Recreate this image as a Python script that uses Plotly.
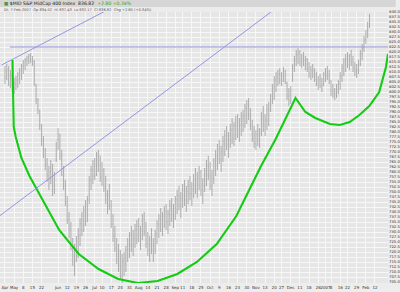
import plotly.graph_objects as go
import pandas as pd

# ---------------- data ----------------
holidays = ["2006-05-29", "2006-07-04", "2006-09-04", "2006-11-23", "2006-12-25",
            "2007-01-01", "2007-01-02", "2007-01-15", "2007-02-19"]
calendar = [d for d in pd.bdate_range("2006-04-24", "2007-02-28")
            if d.strftime("%Y-%m-%d") not in holidays]
session = {d.strftime("%Y-%m-%d"): i for i, d in enumerate(calendar)}

highs = [813, 814, 813, 811, 809, 807, 808, 810, 812, 814,
         816, 817, 818, 819, 819.5, 818, 816, 804, 797, 791,
         784, 778, 772, 767, 763, 766, 764, 760, 775, 782,
         779, 771, 763, 756, 748, 740, 735, 727, 724, 728,
         732, 737, 740, 743, 746, 748, 758, 763, 766, 767,
         770, 771, 768, 765, 762, 758, 751, 754, 746, 739,
         733, 727, 724, 721, 719, 720, 723, 727, 730, 733,
         731, 734, 736, 737, 733, 739, 740, 735, 730, 728,
         732, 727, 731, 736, 739, 742, 740, 743, 744, 741,
         746, 747, 744, 748, 751, 753, 750, 754, 756, 753,
         756, 758, 755, 759, 762, 760, 763, 761, 757, 762,
         766, 768, 765, 761, 767, 771, 774, 776, 773, 778,
         781, 783, 780, 784, 787, 785, 788, 789, 787, 790,
         791, 794, 796, 797, 792, 786, 783, 781, 784, 782,
         790, 793, 789, 794, 795, 799, 804, 808, 810, 811,
         812, 810, 812.5, 811, 805, 802, 803, 814, 818, 821,
         822, 821, 819, 820, 818, 817, 815, 813, 814, 812,
         810, 808, 809, 807, 810, 812, 813, 811, 806, 804,
         802, 804, 806, 810, 814, 817, 819, 820, 819, 821,
         818, 815, 814, 816, 821, 824, 828, 831, 835, 839]
lows = [804, 806, 803, 802, 800, 799, 801, 802, 804, 806,
        809, 811, 813, 814, 814.5, 813, 803, 794, 789, 781,
        773, 767, 761, 755, 751, 754, 748, 749, 765, 771,
        766, 758, 751, 743, 734, 727, 721, 713, 708, 715,
        717, 723, 728, 730, 733, 735, 744, 751, 754, 756,
        758, 760, 755, 753, 750, 744, 739, 741, 732, 725,
        720, 714, 710, 706, 704.5, 708, 710, 715, 717, 720,
        718, 722, 724, 725, 721, 726, 728, 722, 718, 715,
        719, 715, 719, 724, 727, 730, 728, 732, 731, 729,
        733, 735, 732, 736, 739, 741, 737, 742, 743, 740,
        744, 746, 743, 747, 749, 747, 751, 748, 744, 750,
        753, 756, 751, 748, 754, 758, 761, 764, 760, 765,
        768, 771, 767, 772, 774, 773, 776, 777, 775, 778,
        780, 782, 784, 786, 781, 775, 772, 771, 773, 772,
        778, 780, 778, 781, 783, 790, 794, 796, 800, 803,
        804, 803, 805, 804, 796, 793, 794, 805, 810, 813,
        814, 813, 812, 813, 811, 810, 807, 806, 807, 805,
        803, 801, 802, 800, 803, 805, 806, 804, 798, 797,
        796, 797, 799, 801, 805, 808, 810, 812, 811, 813,
        810, 808, 807, 809, 813, 816, 820, 824, 827, 832]
closes = [807, 811, 805, 808, 802, 804, 806, 809, 810, 813,
          815, 816, 817, 818, 816, 815, 804, 796, 791, 783,
          776, 771, 764, 758, 760, 762, 751, 766, 776, 779,
          768, 760, 753, 745, 736, 731, 723, 715, 721, 718,
          728, 734, 731, 740, 735, 746, 756, 761, 758, 764,
          766, 768, 757, 761, 752, 746, 748, 743, 734, 728,
          722, 717, 713, 708, 715, 717, 721, 724, 728, 723,
          727, 731, 733, 728, 730, 736, 730, 724, 721, 726,
          721, 724, 729, 734, 737, 733, 738, 740, 735, 739,
          743, 737, 742, 746, 748, 743, 747, 751, 746, 750,
          753, 749, 752, 756, 752, 757, 760, 751, 753, 759,
          763, 758, 753, 757, 765, 767, 771, 766, 770, 775,
          778, 773, 776, 781, 777, 783, 785, 780, 784, 787,
          788, 792, 794, 788, 783, 777, 774, 779, 776, 780,
          787, 783, 786, 791, 792, 797, 802, 806, 807, 809,
          806, 808, 811, 805, 798, 796, 801, 812, 816, 819,
          820, 815, 817, 814, 816, 812, 809, 811, 808, 810,
          804, 806, 807, 803, 809, 810, 808, 805, 801, 799,
          800, 798, 804, 808, 812, 815, 817, 816, 818, 815,
          812, 810, 811, 814, 819, 822, 826, 829, 833, 836.82]
opens = [810] + closes[:-1]

# hand-drawn rounding-bottom curve (session number, price)
curve_session = [4.1, 4.8, 5.9, 9.0, 13.4, 18.8, 24.2, 29.6, 40.3, 51.1, 61.8, 72.6,
                 83.3, 94.1, 104.8, 115.6, 126.3, 134.4, 139.8, 147.8, 153.2, 158.6,
                 164.0, 169.4, 177.4, 182.8, 188.2, 193.5, 198.9, 204.3, 208.0, 209.1]
curve_price = [816, 782.5, 777.5, 767, 758, 749, 739.5, 731, 719, 711.5, 706.5, 704.5,
               705.5, 709, 715, 724, 738, 753, 763, 776.5, 787, 797,
               790, 787, 784, 783.5, 785, 788.5, 793, 800, 812.5, 819]

# trend lines (session number, price)
upper_trend = [(-1.8, 813.5), (54.8, 840.5)]
lower_trend = [(-2.7, 738.2), (145.2, 840.0)]
resistance = [(2.7, 822.5), (209.1, 822.5)]

tick_dates = ["2006-04-24", "2006-05-01", "2006-05-08", "2006-05-15", "2006-05-22",
              "2006-06-05", "2006-06-12", "2006-06-19", "2006-06-26",
              "2006-07-03", "2006-07-10", "2006-07-17", "2006-07-24", "2006-07-31",
              "2006-08-07", "2006-08-14", "2006-08-21", "2006-08-28",
              "2006-09-05", "2006-09-11", "2006-09-18", "2006-09-25",
              "2006-10-02", "2006-10-09", "2006-10-16", "2006-10-23", "2006-10-30",
              "2006-11-06", "2006-11-13", "2006-11-20", "2006-11-27",
              "2006-12-04", "2006-12-11", "2006-12-18", "2006-12-26",
              "2007-01-03", "2007-01-08", "2007-01-16", "2007-01-22", "2007-01-29",
              "2007-02-05", "2007-02-12"]
tick_labels = ["Apr", "May", "8", "15", "22",
               "Jun", "12", "19", "26",
               "Jul", "10", "17", "24", "31",
               "Aug", "14", "21", "28",
               "Sep", "11", "18", "25",
               "Oct", "9", "16", "23", "30",
               "Nov", "13", "20", "27",
               "Dec", "11", "18", "26",
               "2007", "8", "16", "22", "29",
               "Feb", "12"]

title_main = "$MID S&P MidCap 400 Index  836.82"
title_chg = "+2.80 +0.34%"
subtitle = "Dt: 7-Feb-2007  Op 834.02  Hi 837.43  Lo 832.17  Cl 836.82  Chg +2.80 (+0.34%)"

# ---------------- figure ----------------
n = len(closes)
x_idx = list(range(n))

fig = go.Figure()
fig.add_trace(go.Ohlc(
    x=x_idx, open=opens, high=highs, low=lows, close=closes,
    increasing=dict(line=dict(color="#a6a6a6", width=0.9)),
    decreasing=dict(line=dict(color="#a6a6a6", width=0.9)),
    tickwidth=0.2, hoverinfo="skip", showlegend=False))

fig.add_trace(go.Scatter(
    x=curve_session, y=curve_price, mode="lines",
    line=dict(color="#12cc12", width=2.1), showlegend=False, hoverinfo="skip",
    cliponaxis=False))

line_col = "#9494e2"
for pts in (upper_trend, lower_trend, resistance):
    fig.add_shape(type="line", xref="x", yref="y",
                  x0=pts[0][0], y0=pts[0][1], x1=pts[1][0], y1=pts[1][1],
                  line=dict(color=line_col, width=1), layer="above")

# header bands
fig.add_shape(type="rect", xref="paper", yref="paper", x0=0, x1=1.02,
              y0=1 + 5 / 271, y1=1 + 12 / 271, fillcolor="#d6d6d6", line_width=0, layer="below")
fig.add_shape(type="rect", xref="paper", yref="paper", x0=0, x1=1.02,
              y0=1, y1=1 + 5 / 271, fillcolor="#ececec", line_width=0, layer="below")

fig.add_annotation(xref="paper", yref="paper", x=0.005, y=1 + 8.5 / 271,
                   xanchor="left", yanchor="middle", showarrow=False,
                   text="<span style='color:#4a9a4a'>■</span> " + title_main +
                   "  <span style='color:#22aa22'>" + title_chg + "</span>",
                   font=dict(family="DejaVu Sans", size=4.6, color="#222"))
fig.add_annotation(xref="paper", yref="paper", x=0.005, y=1 + 2.5 / 271,
                   xanchor="left", yanchor="middle", showarrow=False,
                   text=subtitle, font=dict(family="DejaVu Sans", size=3.6, color="#555"))

tick_idx = [session[d] for d in tick_dates]

fig.update_layout(
    width=400, height=292,
    margin=dict(l=0, r=6, t=12, b=9),
    paper_bgcolor="#ededed", plot_bgcolor="#e6e6e6",
    xaxis=dict(range=[-2.7, 209.1], tickmode="array", tickvals=tick_idx, ticktext=tick_labels,
               tickangle=0,
               showgrid=True, gridcolor="#f7f7f7", gridwidth=1, zeroline=False,
               rangeslider=dict(visible=False), ticks="", ticklabelstandoff=1,
               tickfont=dict(family="DejaVu Sans", size=4.0, color="#333"),
               showline=False, fixedrange=True),
    yaxis=dict(range=[704.5, 840], side="right", dtick=2.5, tick0=700,
               showgrid=True, gridcolor="#f7f7f7", gridwidth=1, zeroline=False,
               tickformat=".1f", ticks="",
               tickfont=dict(family="DejaVu Sans", size=3.8, color="#333"),
               showline=False, fixedrange=True),
)

fig.write_html("out.html")
